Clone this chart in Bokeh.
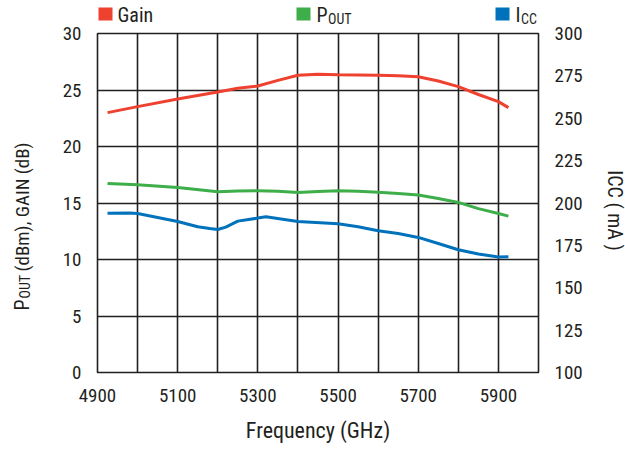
import math
from bokeh.plotting import figure
from bokeh.layouts import column, row
from bokeh.models import Range1d, LinearAxis, FixedTicker, Label, BoxAnnotation
from bokeh.embed import file_html
from bokeh.resources import INLINE

# ---------------- data ----------------
freq_gain = [4925, 5000, 5100, 5200, 5250, 5300, 5350, 5400, 5450, 5500, 5600, 5650, 5700, 5750, 5800, 5850, 5900, 5925]
gain = [23.0, 23.53, 24.2, 24.82, 25.15, 25.35, 25.85, 26.3, 26.39, 26.35, 26.3, 26.27, 26.18, 25.8, 25.3, 24.6, 23.97, 23.44]

freq_pout = [4925, 5000, 5100, 5200, 5250, 5300, 5350, 5400, 5450, 5500, 5550, 5600, 5650, 5700, 5750, 5800, 5850, 5900, 5925]
pout = [16.72, 16.61, 16.37, 15.99, 16.06, 16.08, 16.05, 15.93, 16.02, 16.08, 16.05, 15.95, 15.84, 15.7, 15.4, 15.05, 14.5, 14.07, 13.84]

freq_icc = [4925, 4980, 5000, 5100, 5150, 5180, 5200, 5220, 5250, 5300, 5320, 5400, 5500, 5550, 5600, 5650, 5700, 5750, 5800, 5850, 5900, 5925]
icc = [194.0, 194.1, 193.8, 189.1, 186.0, 185.0, 184.4, 185.8, 189.3, 191.1, 191.9, 189.1, 187.7, 186.0, 183.6, 182.0, 179.7, 176.1, 172.4, 169.9, 168.1, 168.3]

x_ticks = [4900, 5100, 5300, 5500, 5700, 5900]
x_grid = [4900, 5000, 5100, 5200, 5300, 5400, 5500, 5600, 5700, 5800, 5900, 6000]
left_ticks = [0, 5, 10, 15, 20, 25, 30]
right_ticks = [100, 125, 150, 175, 200, 225, 250, 275, 300]

FONT = "Roboto Condensed"
TXT = "#231F20"
C_GAIN = "#EF4130"
C_POUT = "#3DAE49"
C_ICC = "#0072BC"
GRID = "#231F20"


def blank(w, h, yr):
    f = figure(width=w, height=h, x_range=Range1d(0, w), y_range=Range1d(*yr),
               output_backend="svg", toolbar_location=None,
               x_axis_location=None, y_axis_location=None, min_border=0)
    f.outline_line_color = None
    f.grid.visible = False
    f.background_fill_color = "white"
    f.border_fill_color = "white"
    return f


def lab(f, text, x, y, size, angle=0, align="left"):
    f.add_layout(Label(x=x, y=y, text=text, text_font=FONT, text_font_size=size,
                       text_color=TXT, angle=angle, text_align=align, text_baseline="middle"))


# ---------------- main plot ----------------
p = figure(width=553, height=425, x_range=Range1d(4900, 6000), y_range=Range1d(0, 30),
           output_backend="svg", toolbar_location=None,
           min_border_left=52, min_border_right=60, min_border_top=7, min_border_bottom=79)
p.extra_y_ranges = {"icc": Range1d(100, 300)}
p.background_fill_color = "white"
p.border_fill_color = "white"
p.outline_line_color = GRID
p.outline_line_width = 1.6

xa = p.xaxis[0]
xa.ticker = FixedTicker(ticks=x_ticks)
ya = p.yaxis[0]
ya.ticker = FixedTicker(ticks=left_ticks)
ra = LinearAxis(y_range_name="icc", ticker=FixedTicker(ticks=right_ticks))
p.add_layout(ra, "right")

for ax in (xa, ya, ra):
    ax.axis_line_color = None
    ax.major_tick_line_color = None
    ax.minor_tick_line_color = None
    ax.major_tick_in = 0
    ax.major_tick_out = 0
    ax.major_label_text_font = FONT
    ax.major_label_text_font_size = "19px"
    ax.major_label_text_color = TXT
    ax.major_label_standoff = 16

xa.axis_label = "Frequency (GHz)"
xa.axis_label_text_font = FONT
xa.axis_label_text_font_size = "22px"
xa.axis_label_text_font_style = "normal"
xa.axis_label_text_color = TXT
xa.axis_label_standoff = 13

p.xgrid.ticker = FixedTicker(ticks=x_grid)
p.xgrid.grid_line_color = GRID
p.xgrid.grid_line_width = 1.6
p.ygrid.grid_line_color = GRID
p.ygrid.grid_line_width = 1.6

p.line(freq_gain, gain, line_color=C_GAIN, line_width=3)
p.line(freq_pout, pout, line_color=C_POUT, line_width=3)
p.line(freq_icc, icc, line_color=C_ICC, line_width=3, y_range_name="icc")

# ---------------- legend strip (top): y = 26 - pixel row ----------------
top = blank(625, 26, (0, 26))
for x0, c in [(98, C_GAIN), (296, C_POUT), (495, C_ICC)]:
    top.add_layout(BoxAnnotation(left=x0, right=x0 + 14, bottom=6, top=19,
                                 fill_color=c, fill_alpha=1, line_color=None))
lab(top, "Gain", 117, 11.5, "20px")
lab(top, "P", 316, 11.5, "20px")
lab(top, "OUT", 327.5, 7.5, "14px")
lab(top, "I", 515, 11.5, "20px")
lab(top, "CC", 520.5, 7.5, "14px")

# side strips: frames align with the main frame, y = 451 - pixel row
left = blank(45, 425, (79, 418))
lab(left, "P", 21.5, 141, "20px", angle=math.pi / 2)
lab(left, "OUT", 24.5, 153, "14px", angle=math.pi / 2)
lab(left, "(dBm), GAIN (dB)", 21.5, 180, "19px", angle=math.pi / 2)

right = blank(27, 425, (79, 418))
lab(right, "ICC ( mA )", 16, 241, "20px", angle=-math.pi / 2, align="center")

layout = column(top, row(left, p, right))
open("out.html", "w").write(file_html(layout, INLINE))
